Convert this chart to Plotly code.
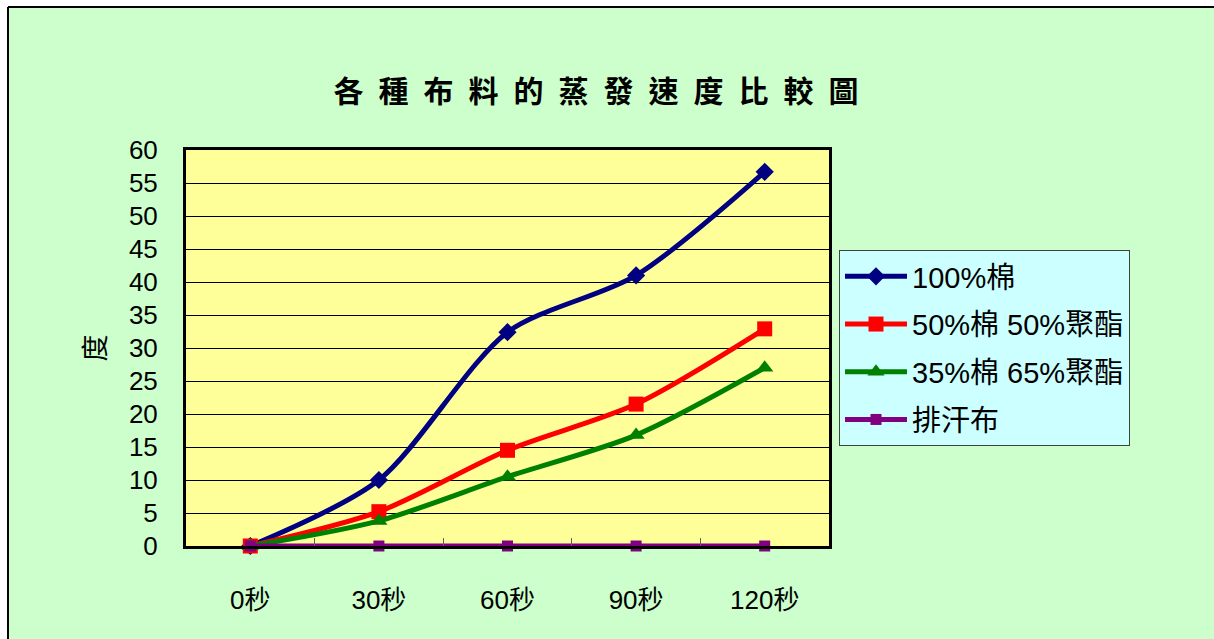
import plotly.graph_objects as go

categories = ["0秒", "30秒", "60秒", "90秒", "120秒"]
series_names = ["100%棉", "50%棉 50%聚酯", "35%棉 65%聚酯", "排汗布"]
cotton100 = [0, 10.0, 32.4, 41.0, 56.7]
cotton50 = [0, 5.2, 14.5, 21.5, 32.9]
cotton35 = [0, 3.8, 10.5, 16.8, 27.0]
sweatwick = [0, 0, 0, 0, 0]
y_ticks = list(range(0, 61, 5))

colors = ["#000080", "#FF0000", "#008000", "#800080"]
symbols = ["diamond", "square", "triangle-up", "square"]
msizes = [14, 15, 15, 11]
values = [cotton100, cotton50, cotton35, sweatwick]

FONT = "Liberation Sans, Arial, Noto Sans CJK TC, sans-serif"

fig = go.Figure()
for i, (name, vals) in enumerate(zip(series_names, values)):
    fig.add_trace(go.Scatter(
        x=categories, y=vals, name=name, mode="lines+markers",
        line=dict(color=colors[i], width=5, shape="spline", smoothing=0.8),
        marker=dict(symbol=symbols[i], size=msizes[i], color=colors[i]),
        cliponaxis=False, legendgroup=f"g{i}",
    ))

W, H = 1214, 639
L, R, T, B = 186, 385, 150, 93
pw, ph = W - L - R, H - T - B

def px_x(p):
    return (p - L) / pw

def px_y(p):
    return (H - B - p) / ph

bx, by = px_x(8), px_y(7)
shapes = [
    dict(type="rect", xref="paper", yref="paper", x0=-0.4, x1=bx, y0=-0.4, y1=1.6,
         fillcolor="white", line=dict(width=0), layer="below"),
    dict(type="rect", xref="paper", yref="paper", x0=-0.4, x1=1.8, y0=by, y1=1.6,
         fillcolor="white", line=dict(width=0), layer="below"),
    dict(type="line", xref="paper", yref="paper", x0=bx, x1=bx, y0=-0.4, y1=by,
         line=dict(color="black", width=2)),
    dict(type="line", xref="paper", yref="paper", x0=bx, x1=1.8, y0=by, y1=by,
         line=dict(color="black", width=2)),
]

fig.update_layout(
    width=W, height=H,
    margin=dict(l=L, r=R, t=T, b=B, autoexpand=False),
    paper_bgcolor="#CCFFCC", plot_bgcolor="#FFFF99",
    font=dict(family=FONT, color="black", size=24),
    title=dict(text="各\u2002種\u2002布\u2002料\u2002的\u2002蒸\u2002發\u2002速\u2002度\u2002比\u2002較\u2002圖",
               font=dict(size=30, family=FONT, color="black", weight="bold"),
               x=596 / W, xanchor="center", y=1 - 91 / H, yanchor="middle",
               xref="container", yref="container"),
    xaxis=dict(
        type="category", range=[-0.5, 4.5], showgrid=False,
        showline=True, linecolor="black", linewidth=3, mirror=True,
        ticks="inside", ticklen=8, tickcolor="#606060", tickwidth=1,
        tickson="boundaries", ticklabelstandoff=29,
        tickfont=dict(size=26),
    ),
    yaxis=dict(
        range=[0, 60], tickvals=y_ticks, showgrid=True, gridcolor="black", gridwidth=1,
        showline=True, linecolor="black", linewidth=3, mirror=True,
        ticks="", ticklabelstandoff=20, tickfont=dict(size=26), zeroline=False,
        title=dict(text="度", font=dict(size=27), standoff=16),
    ),
    legend=dict(
        x=px_x(839), xanchor="left", y=px_y(250), yanchor="top",
        bgcolor="#CCFFFF", bordercolor="#404040", borderwidth=1,
        font=dict(size=29, family=FONT), tracegroupgap=7,
        traceorder="grouped", itemwidth=62,
    ),
    shapes=shapes,
    showlegend=True,
)

fig.write_html("out.html")
